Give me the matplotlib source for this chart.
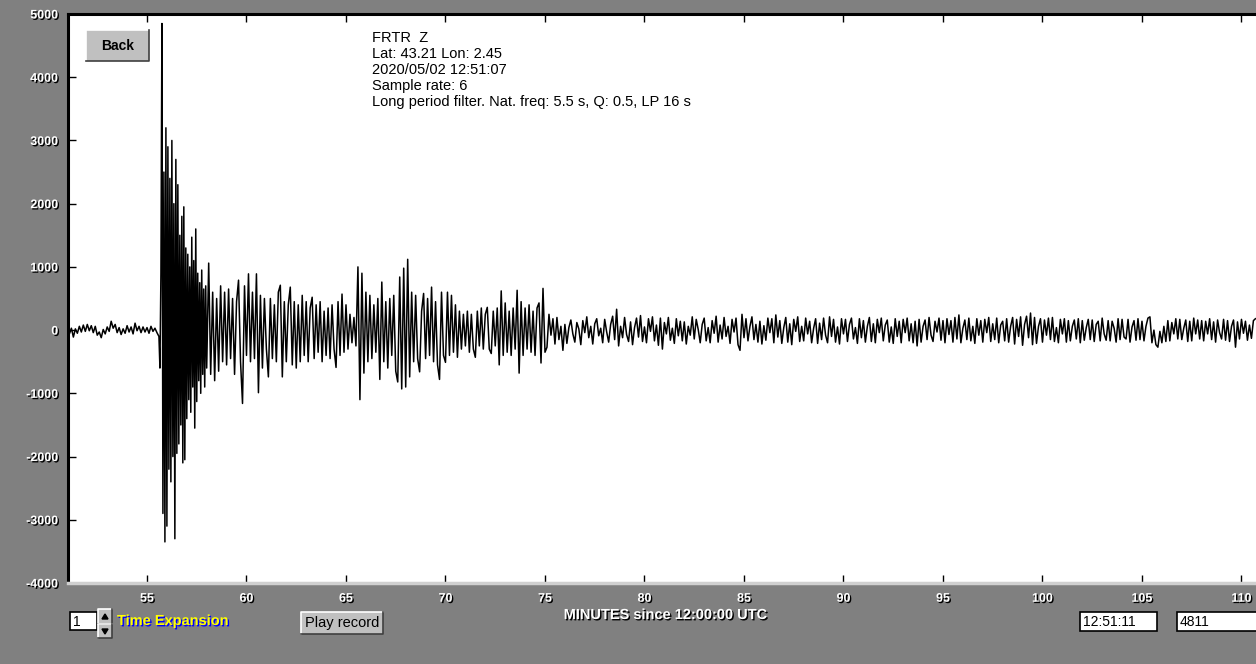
import numpy as np
import matplotlib.pyplot as plt
import matplotlib.patheffects as pe
from matplotlib.patches import Rectangle, Polygon

W, H = 1256, 664
plt.rcParams["axes.unicode_minus"] = False

# FRTR Z trace (counts), minutes since 12:00 UTC
pre_start, pre_step = 51.0, 0.1
pre = [
    40, -60, 30, -110, 20, -50, 60, -30, 80, -20,
    90, -10, 70, -40, 60, -80, -30, -120, 10, -60,
    50, -20, 140, 30, 90, -40, 40, -70, 20, -50,
    70, -30, 50, -60, 110, -10, 60, -40, 50, -30,
    40, -50, 60, -20, 30, -40,
]

burst_start, burst_step = 55.6, 0.05
burst = [
    -100, -600, 900, 4850, -2900, 2500, -3350, 3200, -3100, 2900,
    -2200, 2400, -2400, 3000, -2000, 2000, -3300, 2700, -1950, 2300,
    -1800, 1500, -1500, 1800, -2100, 1950, -2050, 1300, -1400, 1200,
    -1100, 1000, -1300, 1470, -900, 1100, -1550, 1600, -1130, 900,
    -800, 750, -1000, 950, -700, 650, -900, 700,
]

coda_start, coda_step = 58.0, 0.1
coda = [
    -600, 1060, -700, 600, -800, 500, -650, 700, -500, 600,      # 58
    -550, 650, -450, 500, -700, 450, 790, -500, -1160, 700,      # 59
    -400, 890, -500, 600, -450, 890, -990, 550, -600, 500,       # 60
    -300, -740, 500, -450, 400, -500, 600, 710, -740, 450,       # 61
    -500, 400, 680, -550, 450, -600, 400, -500, 550, -400,       # 62
    450, -500, 350, 520, -450, 400, -350, 450, -500, 300,        # 63
    -400, 350, -450, 400, -300, -590, 450, -400, 570, -350,      # 64
    400, -300, 250, -200, 200, -250, 1000, -1100, 900, -680,     # 65
    600, -500, 550, -450, 400, -350, 500, -780, 760, -500,       # 66
    450, -600, 500, -400, 550, -650, -820, 840, -930, 980,       # 67
    -900, 1120, -740, 600, -500, 550, -450, -660, 300, 580,      # 68
    -450, 500, -400, 680, -500, 450, -550, -780, 600, -400,      # 69
    -510, 600, -400, 550, -350, 400, -430, 300, -300, 250,       # 70
    -250, 300, -350, 250, -300, -430, 300, -250, 350, -300,      # 71
    250, 360, -300, -370, 300, -250, 350, -550, 620, -400,       # 72
    430, -350, 300, -400, 350, -300, 630, -680, 450, -400,       # 73
    350, -300, 400, -350, 300, -400, 350, 430, -520, 660,        # 74
    -350, -270, 250, -80, 180, -220, 200, -150, 60, -320,        # 75
    90, -210, 40, 160, -60, -190, 120, 20, -230, 150,            # 76
    -40, 210, -120, 60, -220, 100, 180, -90, 30, -200,           # 77
    170, -30, -190, 90, 220, -150, 330, -250, 60, -120,          # 78
    200, -70, -180, 130, -230, 40, 190, -110, 230, -180,         # 79
    50, -200, 180, -20, 210, -170, 80, -240, 190, -300,          # 80
    120, -60, 200, -160, 30, -210, 180, -90, 140, -170,          # 81
    130, -220, 60, -80, 210, -140, 170, 10, -200, 90,            # 82
    190, -170, 40, -200, 150, -50, 220, -190, 80, -140,          # 83
    200, -100, 60, -210, 170, -30, 190, -230, -320, 250,         # 84
    -120, 180, -170, 60, 210, -150, 90, -190, 140, -220,         # 85
    70, -160, 190, -40, 180, -200, 240, -110, 150, -210,         # 86
    40, 200, -190, 100, -230, 170, -20, 210, -180, 60,           # 87
    -170, 190, -60, 140, -200, 30, 180, -210, 110, -150,         # 88
    190, -80, -200, 210, -100, 170, -190, 50, -220, 180,         # 89
    -60, 170, -180, 90, 190, -140, 40, -210, 180, -120,          # 90
    150, -190, 60, 200, -180, 100, -200, 170, -40, 190,          # 91
    -170, 80, 160, -190, 50, -210, 180, -100, 140, -200,         # 92
    170, -40, 190, -170, 100, -200, 140, -250, 170, -190,        # 93
    60, 160, -150, 200, -80, -180, 140, -30, 190, -160,          # 94
    150, -200, 180, -70, 150, -190, 200, -140, 240, -200,        # 95
    30, 160, -150, 190, -170, 60, -210, 180, -80, 150,           # 96
    -190, 170, -40, 200, -180, 100, -150, 190, -200, 80,         # 97
    140, -170, 180, -190, 60, 200, -220, 170, -100, 210,         # 98
    -240, 90, 220, -120, 270, -230, 200, -210, 60, 180,          # 99
    -190, 160, -80, 190, -150, 200, -180, 40, -200, 170,         # 100
    -60, 180, -190, 150, -170, 60, 160, -140, 180, -200,         # 101
    150, -160, 40, 170, -150, 160, -180, 90, 140, -170,          # 102
    190, -60, -160, 150, -170, 140, 30, -190, 180, -150,         # 103
    170, -110, -140, 170, -190, 50, 150, -160, 180, -150,        # 104
    140, -170, 60, 190, 210, -200, 0, -230, -270, -20,           # 105
    -200, 60, -180, 150, -170, 120, -60, 180, -140, 170,         # 106
    -150, 30, 160, -180, 140, -170, 190, -60, 160, -140,         # 107
    150, -170, 140, -60, 180, -150, 130, -190, 160, -40,         # 108
    -140, 170, -160, 150, -180, 60, 160, -270, 130, -140,        # 109
    170, -50, 140, -160, 80, -130, 150, 180,                     # 110
]

yticks = [5000, 4000, 3000, 2000, 1000, 0, -1000, -2000, -3000, -4000]
xticks = [55, 60, 65, 70, 75, 80, 85, 90, 95, 100, 105, 110]
info_lines = ["FRTR  Z", "Lat: 43.21 Lon: 2.45", "2020/05/02 12:51:07",
              "Sample rate: 6",
              "Long period filter. Nat. freq: 5.5 s, Q: 0.5, LP 16 s"]

t = np.concatenate([pre_start + pre_step * np.arange(len(pre)),
                    burst_start + burst_step * np.arange(len(burst)),
                    coda_start + coda_step * np.arange(len(coda))])
v = np.concatenate([pre, burst, coda])

shadow = [pe.withSimplePatchShadow(offset=(1, -1), shadow_rgbFace="black", alpha=1.0)]

fig = plt.figure(figsize=(W / 100, H / 100), dpi=100, facecolor="#808080")
ax = fig.add_axes([68 / W, 1 - 583 / H, (W - 68) / W, (583 - 14) / H])
ax.set_facecolor("white")
ax.plot(t, v, color="black", lw=1.1)
ax.set_xlim(51.03, 110.73)
ax.set_ylim(-4000, 5000)

ax.spines["right"].set_visible(False)
for s in ["top", "left"]:
    ax.spines[s].set_color("black")
    ax.spines[s].set_linewidth(2.2)
ax.spines["bottom"].set_color("#d0d0d0")
ax.spines["bottom"].set_linewidth(2.5)

ax.set_xticks(xticks)
ax.set_yticks(yticks)
ax.tick_params(axis="both", direction="in", length=6, width=1, color="black",
               labelcolor="white", labelsize=9, pad=7)
ax.tick_params(axis="x", top=True)
for lbl in ax.get_xticklabels() + ax.get_yticklabels():
    lbl.set_fontweight("bold")
    lbl.set_family("Liberation Sans")
    lbl.set_path_effects(shadow)

# overlay in pixel coordinates for the screen widgets
ov = fig.add_axes([0, 0, 1, 1], zorder=5)
ov.set_xlim(0, W)
ov.set_ylim(H, 0)
ov.axis("off")
ov.patch.set_visible(False)


def button(x0, y0, x1, y1, label, bold=False, size=9):
    ov.add_patch(Rectangle((x0, y0), x1 - x0, y1 - y0, facecolor="#c0c0c0", edgecolor="none"))
    ov.plot([x0, x0, x1], [y1, y0, y0], color="white", lw=1.2)
    ov.plot([x0, x1, x1], [y1, y1, y0], color="#404040", lw=1.2)
    if label:
        ov.text((x0 + x1) / 2, (y0 + y1) / 2, label, ha="center", va="center",
                fontsize=size, fontweight="bold" if bold else "normal",
                family="Liberation Sans", color="black")


def box(x0, y0, x1, y1, label):
    ov.add_patch(Rectangle((x0, y0), x1 - x0, y1 - y0, facecolor="white",
                           edgecolor="black", lw=1.2))
    ov.text(x0 + 3, (y0 + y1) / 2 + 1, label, ha="left", va="center",
            fontsize=10, family="Liberation Sans", color="black")


button(86, 30, 149, 61, "Back", bold=True, size=10)
button(301, 612, 383, 634, "Play record", size=10.5)

for i, line in enumerate(info_lines):
    ov.text(372, 38 + 16 * i, line, ha="left", va="center", fontsize=10.5,
            family="Liberation Sans", color="black")

box(70, 612, 97, 630, "1")
button(98, 609, 112, 624, "")
button(98, 624, 112, 638, "")
ov.add_patch(Polygon([[102, 619], [108, 619], [105, 614]], color="black"))
ov.add_patch(Polygon([[102, 629], [108, 629], [105, 634]], color="black"))
ov.text(117, 621, "Time Expansion", ha="left", va="center", fontsize=10.5,
        fontweight="bold", family="Liberation Sans", color="yellow",
        path_effects=[pe.withSimplePatchShadow(offset=(1, -1), shadow_rgbFace="#0000ff", alpha=1.0)])

ov.text(666, 615, "MINUTES since 12:00:00 UTC", ha="center", va="center",
        fontsize=10.5, fontweight="bold", family="Liberation Sans", color="white",
        path_effects=shadow)

box(1080, 612, 1157, 631, "12:51:11")
box(1177, 612, 1262, 631, "4811")

plt.savefig("out.png", dpi=100, facecolor=fig.get_facecolor())
plt.close()
